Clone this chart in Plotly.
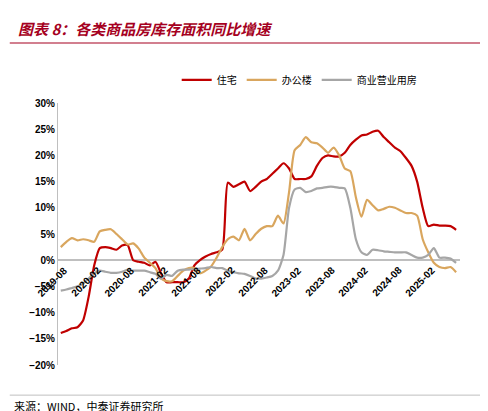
import plotly.graph_objects as go
import pandas as pd

months = [d.strftime("%Y-%m") for d in pd.date_range("2019-08-01", "2025-07-01", freq="MS")]
residential = [-13.9,-13.5,-13,-12.8,-11.5,-7,-1,2.3,2.5,2.3,2.0,2.8,2.9,0,-0.3,-0.5,-1,-0.3,-2.5,-4.2,-4.2,-4.2,-4.2,-3.5,-1,0,0.7,1.2,1.5,2,
  14.8,14.0,14.5,15.0,13.2,14,15.0,15.5,16.5,17.5,18.5,17.5,15.5,15.5,15.5,16,18,19.5,20,19.8,19.8,20.5,22,23,23.8,24,24.5,24.7,23.5,22.5,21.5,20.8,19.5,18,15,10,6.5,6.8,6.6,6.6,6.5,5.8]
office = [2.5,3.5,4.2,3.8,4.0,3.8,3.5,5.5,5.8,5.9,5.0,4.0,3.0,3.2,2.2,0.5,-0.5,-1.5,-3.5,-4,-4,-3,-2,-1.5,-1.5,-2.5,-2.0,-1.2,0.5,2.5,
  4.0,4.5,3.8,6.0,3.8,5.0,6.0,6.5,6.5,8.5,7,13,21,22,23.5,22.5,22.3,21.5,20.5,21.5,20,17.5,17,12,8.3,11.5,10.5,9.5,9.8,10.2,10,9.5,9,9,8.5,4,1.5,-0.5,-1.3,-1.5,-1.3,-2.3]
commercial = [-5.8,-5.6,-5.3,-5.0,-4.5,-3.5,-2.5,-2,-2.2,-2.4,-2.4,-2.2,-1.8,-2.0,-2.0,-2.0,-2.3,-2.6,-3.5,-2.8,-3,-2.0,-1.8,-1.8,-1.7,-1.6,-1.5,-1.3,-1.5,-1.5,
  -2,-2.3,-2.5,-2.6,-3,-3.5,-3.5,-3.3,-3,-2,1,10,13.5,13.8,13,13.2,13.7,13.8,14,14,13.8,13.7,10,4,1.5,1.0,2.0,1.9,1.7,1.6,1.5,1.5,1.5,1.0,0.5,0.5,1.0,2.3,0.5,0.5,0.3,-0.5]
names = ["住宅", "办公楼", "商业营业用房"]
colors = ["#C00000", "#D9A65E", "#A6A6A6"]
ticklabels = months[::6]

fig = go.Figure()
for n, v, c in zip(names, [residential, office, commercial], colors):
    fig.add_trace(go.Scatter(x=months, y=[x/100 for x in v], name=n, mode="lines",
                             line=dict(color=c, width=2.2, shape="spline", smoothing=0.6)))
font = "Noto Sans CJK SC"
ann = [dict(text="<b>%s</b>" % t, x=t, y=0, xref="x", yref="y", showarrow=False, textangle=-45,
            xanchor="right", yanchor="top", xshift=12, yshift=-2,
            font=dict(size=10, family="Arial", color="black")) for t in ticklabels]
ann += [
    dict(text="<b><i>图表 8：各类商品房库存面积同比增速</i></b>", xref="paper", yref="paper",
         x=-0.104, y=1.286, xanchor="left", yanchor="middle", showarrow=False,
         font=dict(size=15, color="#A50021", family=font)),
    dict(text="来源：WIND，中泰证券研究所", xref="paper", yref="paper",
         x=-0.115, y=-0.156, xanchor="left", yanchor="middle", showarrow=False,
         font=dict(size=11, family=font)),
]
fig.update_layout(
    width=488, height=411, paper_bgcolor="white", plot_bgcolor="white",
    margin=dict(l=50, r=36, t=95, b=54),
    font=dict(family=font, size=10, color="black"),
    legend=dict(orientation="h", x=0.6, xanchor="center", y=1.088, yanchor="middle",
                font=dict(size=10, family=font, color="black")),
    xaxis=dict(type="category", showticklabels=False, showgrid=False, showline=False,
               zeroline=False, ticks="", range=[-0.5, len(months)-0.3]),
    yaxis=dict(range=[-0.2, 0.3], dtick=0.05, tickformat=".0%", showgrid=False,
               showline=True, linecolor="#BFBFBF", zeroline=True, zerolinecolor="#BFBFBF",
               tickfont=dict(size=10, family="Arial", color="black", weight="bold")),
    annotations=ann,
    shapes=[
        dict(type="line", xref="paper", yref="paper", x0=-0.12, x1=1.09, y0=1.229, y1=1.229,
             line=dict(color="#A50021", width=1.2)),
        dict(type="line", xref="paper", yref="paper", x0=-0.12, x1=1.09, y0=-0.115, y1=-0.115,
             line=dict(color="#BFBFBF", width=1)),
    ],
)
fig.write_html("out.html")
